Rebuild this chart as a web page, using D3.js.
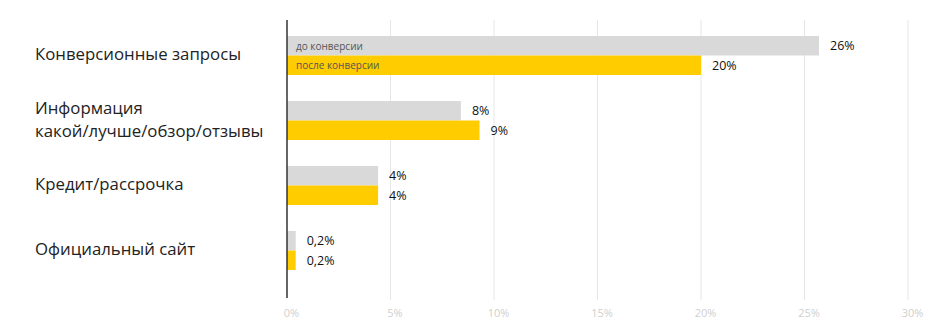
<!DOCTYPE html>
<html><head><meta charset="utf-8">
<script src="https://cdn.jsdelivr.net/npm/d3@7/dist/d3.min.js"></script>
<style>body{margin:0;background:#fff;}svg{display:block;font-family:"Open Sans",sans-serif;}</style>
</head><body><svg id="c" width="930" height="333"></svg>
<script>
const categories = [["Конверсионные запросы"], ["Информация", "какой/лучше/обзор/отзывы"], ["Кредит/рассрочка"], ["Официальный сайт"]];
const seriesNames = ["до конверсии", "после конверсии"];
const before = [25.7, 8.4, 4.4, 0.42];
const after = [20.0, 9.3, 4.4, 0.42];
const beforeLabels = ["26%", "8%", "4%", "0,2%"];
const afterLabels = ["20%", "9%", "4%", "0,2%"];
const ticks = [0, 5, 10, 15, 20, 25, 30];
const colors = ["#d9d9d9", "#ffcc00"];

const svg = d3.select("#c");
const x = d3.scaleLinear().domain([0, 30]).range([287, 908]);
const y = d3.scaleBand().domain(d3.range(categories.length)).range([23, 283]).paddingInner(0.4).paddingOuter(0.2);
const ys = d3.scaleBand().domain([0, 1]).range([0, y.bandwidth()]);

// grid
svg.append("g").selectAll("line").data(ticks.slice(1)).join("line")
  .attr("x1", d => x(d)).attr("x2", d => x(d)).attr("y1", 20).attr("y2", 300)
  .attr("stroke", "#e6e6e6").attr("stroke-width", 1);

// axis labels
const ax = svg.append("g").attr("transform", "translate(0,314)")
  .call(d3.axisBottom(x).tickValues(ticks).tickSize(0).tickFormat(d => d + "%"));
ax.select(".domain").remove();
ax.selectAll("text").attr("dy", 0).attr("dx", 4).attr("fill", "#cfcfcf").style("font-size", "11px").style("font-family", "Open Sans");

const series = [before, after];
const labels = [beforeLabels, afterLabels];
series.forEach((vals, s) => {
  const g = svg.append("g");
  g.selectAll("rect").data(vals).join("rect")
    .attr("x", x(0)).attr("y", (d, i) => y(i) + ys(s))
    .attr("width", d => x(d) - x(0)).attr("height", ys.bandwidth())
    .attr("fill", colors[s]);
  g.selectAll("text").data(vals).join("text")
    .attr("x", d => x(d) + 11).attr("y", (d, i) => y(i) + ys(s) + ys.bandwidth() / 2)
    .attr("dominant-baseline", "central").attr("fill", "#111").style("font-size", "12.5px")
    .text((d, i) => labels[s][i]);
  svg.append("text").attr("x", 296).attr("y", y(0) + ys(s) + ys.bandwidth() / 2)
    .attr("dominant-baseline", "central").attr("fill", "#555").style("font-size", "10px")
    .text(seriesNames[s]);
});

// axis line
svg.append("line").attr("x1", x(0)).attr("x2", x(0)).attr("y1", 20).attr("y2", 298)
  .attr("stroke", "#333").attr("stroke-width", 1.5);

// category labels
categories.forEach((lines, i) => {
  const cy = y(i) + y.bandwidth() / 2 - 2;
  const t = svg.append("text").attr("x", 35).attr("fill", "#222").style("font-size", "16.8px");
  lines.forEach((ln, k) => {
    t.append("tspan").attr("x", 35).attr("y", cy + (k - (lines.length - 1) / 2) * 23)
      .attr("dominant-baseline", "central").text(ln);
  });
});
</script></body></html>
